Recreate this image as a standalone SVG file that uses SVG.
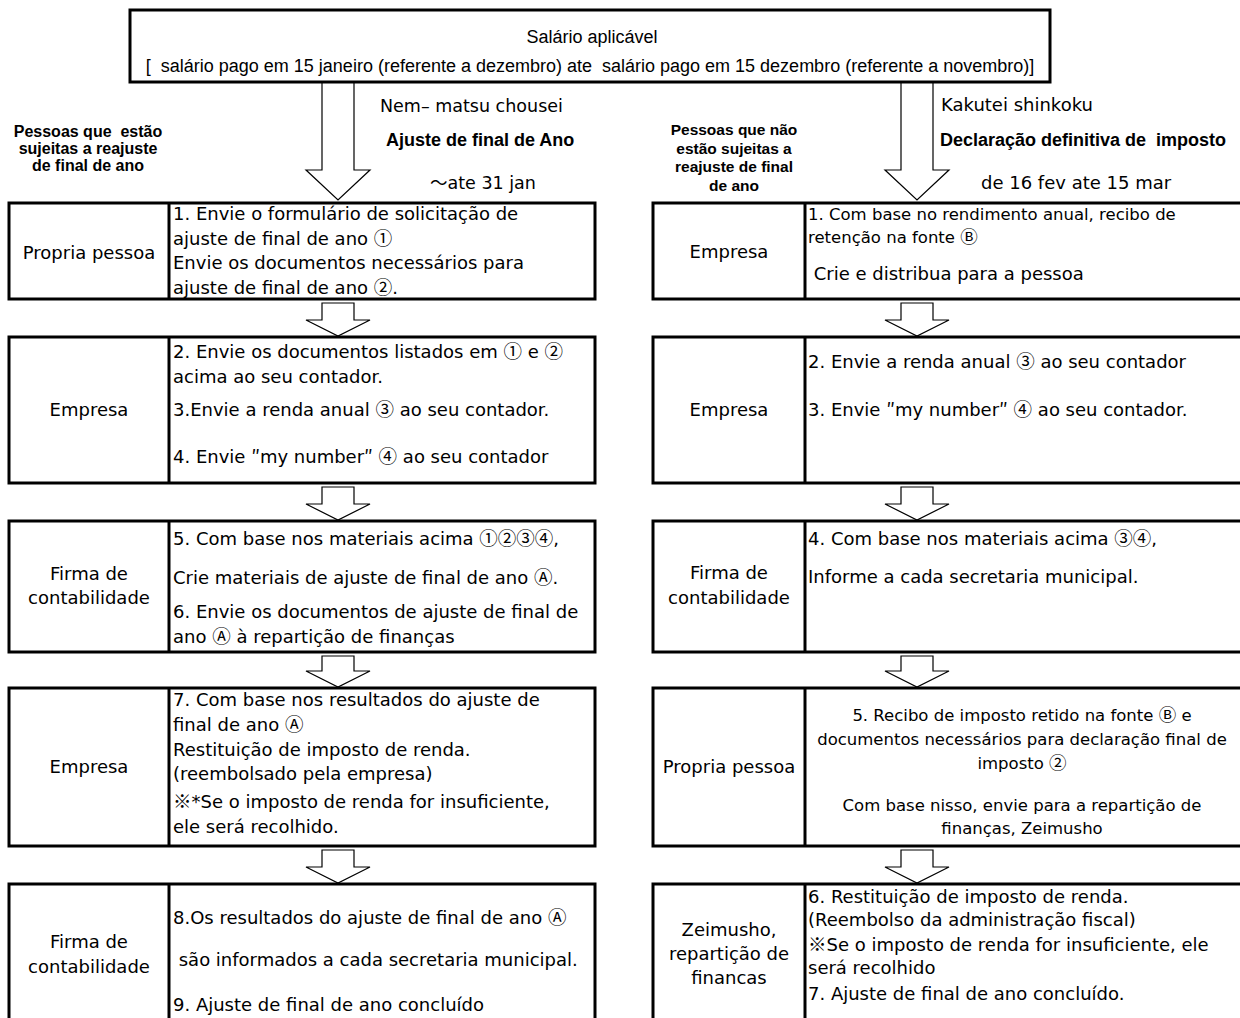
<svg xmlns="http://www.w3.org/2000/svg" width="1240" height="1018" viewBox="0 0 1240 1018">
<style>
.box{fill:#fff;stroke:#000;stroke-width:3}
.dv{stroke:#000;stroke-width:3}
.arr{fill:#fff;stroke:#000;stroke-width:1.2}
text{fill:#000}
.t{font-family:"DejaVu Sans","Noto Sans CJK JP",sans-serif;font-size:18px}
.s{font-size:16.5px}
.m{text-anchor:middle}
.cj{font-family:"Noto Sans CJK JP",sans-serif;font-size:18.5px}
.hd{font-family:"Liberation Sans","Noto Sans CJK JP",sans-serif;font-weight:bold;font-size:15.5px;text-anchor:middle}
.hl{font-size:16px}
.hb{font-family:"Liberation Sans","Noto Sans CJK JP",sans-serif;font-weight:bold;font-size:18px}
.top{font-family:"Liberation Sans","Noto Sans CJK JP",sans-serif;font-size:18px;text-anchor:middle}
</style>
<rect x="0" y="0" width="1240" height="1018" fill="#fff"/>

<g id="salario-aplicavel">
<rect class="box" x="130" y="10" width="920" height="72"/>
<text class="top" x="592" y="43">Salário aplicável</text>
<text class="top" x="590" y="72" xml:space="preserve">[  salário pago em 15 janeiro (referente a dezembro) ate  salário pago em 15 dezembro (referente a novembro)]</text>
</g>

<g id="connectors">
<path class="arr" d="M322,83 H354 V170 H370 L338,200 L306,170 H322 Z"/>
<path class="arr" d="M901,83 H933 V170 H949 L917,200 L885,170 H901 Z"/>
<path class="arr" d="M322,303 H354 V320 H370 L338,336 L306,320 H322 Z"/>
<path class="arr" d="M322,487 H354 V504 H370 L338,520 L306,504 H322 Z"/>
<path class="arr" d="M322,656 H354 V671 H370 L338,687 L306,671 H322 Z"/>
<path class="arr" d="M322,850 H354 V867 H370 L338,883 L306,867 H322 Z"/>
<path class="arr" d="M901,303 H933 V320 H949 L917,336 L885,320 H901 Z"/>
<path class="arr" d="M901,487 H933 V504 H949 L917,520 L885,504 H901 Z"/>
<path class="arr" d="M901,656 H933 V671 H949 L917,687 L885,671 H901 Z"/>
<path class="arr" d="M901,850 H933 V867 H949 L917,883 L885,867 H901 Z"/>
</g>

<g id="header-left">
<text class="hd hl" x="88" y="137" xml:space="preserve">Pessoas que  estão</text>
<text class="hd hl" x="88" y="154">sujeitas a reajuste</text>
<text class="hd hl" x="88" y="171">de final de ano</text>
<text class="t" x="380" y="112" style="font-size:17.5px">Nem– matsu chousei</text>
<text class="hb" x="386" y="146">Ajuste de final de Ano</text>
<text class="t" x="430" y="189" style="font-size:17.5px"><tspan class="cj" style="font-size:17.5px">～</tspan>ate 31 jan</text>
</g>

<g id="header-right">
<text class="hd" x="734" y="135">Pessoas que não</text>
<text class="hd" x="734" y="153.5">estão sujeitas a</text>
<text class="hd" x="734" y="172">reajuste de final</text>
<text class="hd" x="734" y="190.5">de ano</text>
<text class="t" x="941" y="111">Kakutei shinkoku</text>
<text class="hb" x="940" y="146" xml:space="preserve">Declaração definitiva de  imposto</text>
<text class="t" x="981" y="189">de 16 fev ate 15 mar</text>
</g>

<g id="left-1">
<rect class="box" x="9" y="203" width="586" height="96"/>
<line class="dv" x1="169" y1="203" x2="169" y2="299"/>
<text class="t m" x="89" y="259">Propria pessoa</text>
<text class="t" x="173" y="220">1. Envie o formulário de solicitação de</text>
<text class="t" x="173" y="245">ajuste de final de ano <tspan class="cj">①</tspan></text>
<text class="t" x="173" y="269">Envie os documentos necessários para</text>
<text class="t" x="173" y="294">ajuste de final de ano <tspan class="cj">②</tspan>.</text>
</g>

<g id="left-2">
<rect class="box" x="9" y="337" width="586" height="146"/>
<line class="dv" x1="169" y1="337" x2="169" y2="483"/>
<text class="t m" x="89" y="416">Empresa</text>
<text class="t" x="173" y="358">2. Envie os documentos listados em <tspan class="cj">①</tspan> e <tspan class="cj">②</tspan></text>
<text class="t" x="173" y="383">acima ao seu contador.</text>
<text class="t" x="173" y="416">3.Envie a renda anual <tspan class="cj">③</tspan> ao seu contador.</text>
<text class="t" x="173" y="463">4. Envie <tspan class="cj">″</tspan>my number<tspan class="cj">″</tspan> <tspan class="cj">④</tspan> ao seu contador</text>
</g>

<g id="left-3">
<rect class="box" x="9" y="521" width="586" height="131"/>
<line class="dv" x1="169" y1="521" x2="169" y2="652"/>
<text class="t m" x="89" y="580">Firma de</text>
<text class="t m" x="89" y="604">contabilidade</text>
<text class="t" x="173" y="545">5. Com base nos materiais acima <tspan class="cj">①②③④</tspan>,</text>
<text class="t" x="173" y="584">Crie materiais de ajuste de final de ano <tspan class="cj">Ⓐ</tspan>.</text>
<text class="t" x="173" y="618">6. Envie os documentos de ajuste de final de</text>
<text class="t" x="173" y="643">ano <tspan class="cj">Ⓐ</tspan> à repartição de finanças</text>
</g>

<g id="left-4">
<rect class="box" x="9" y="688" width="586" height="158"/>
<line class="dv" x1="169" y1="688" x2="169" y2="846"/>
<text class="t m" x="89" y="773">Empresa</text>
<text class="t" x="173" y="706">7. Com base nos resultados do ajuste de</text>
<text class="t" x="173" y="731">final de ano <tspan class="cj">Ⓐ</tspan></text>
<text class="t" x="173" y="756">Restituição de imposto de renda.</text>
<text class="t" x="173" y="780">(reembolsado pela empresa)</text>
<text class="t" x="173" y="808"><tspan class="cj">※</tspan>*Se o imposto de renda for insuficiente,</text>
<text class="t" x="173" y="833">ele será recolhido.</text>
</g>

<g id="left-5">
<rect class="box" x="9" y="884" width="586" height="140"/>
<line class="dv" x1="169" y1="884" x2="169" y2="1024"/>
<text class="t m" x="89" y="948">Firma de</text>
<text class="t m" x="89" y="973">contabilidade</text>
<text class="t" x="173" y="924">8.Os resultados do ajuste de final de ano <tspan class="cj">Ⓐ</tspan></text>
<text class="t" x="173" y="966" xml:space="preserve"> são informados a cada secretaria municipal.</text>
<text class="t" x="173" y="1011">9. Ajuste de final de ano concluído</text>
</g>

<g id="right-1">
<rect class="box" x="653" y="203" width="600" height="96"/>
<line class="dv" x1="805" y1="203" x2="805" y2="299"/>
<text class="t m" x="729" y="258">Empresa</text>
<text class="t s" x="808" y="220">1. Com base no rendimento anual, recibo de</text>
<text class="t s" x="808" y="243">retenção na fonte <tspan class="cj" style="font-size:17.5px">Ⓑ</tspan></text>
<text class="t" x="808" y="280" xml:space="preserve"> Crie e distribua para a pessoa</text>
</g>

<g id="right-2">
<rect class="box" x="653" y="337" width="600" height="146"/>
<line class="dv" x1="805" y1="337" x2="805" y2="483"/>
<text class="t m" x="729" y="416">Empresa</text>
<text class="t" x="808" y="368">2. Envie a renda anual <tspan class="cj">③</tspan> ao seu contador</text>
<text class="t" x="808" y="416">3. Envie <tspan class="cj">″</tspan>my number<tspan class="cj">″</tspan> <tspan class="cj">④</tspan> ao seu contador.</text>
</g>

<g id="right-3">
<rect class="box" x="653" y="521" width="600" height="131"/>
<line class="dv" x1="805" y1="521" x2="805" y2="652"/>
<text class="t m" x="729" y="579">Firma de</text>
<text class="t m" x="729" y="604">contabilidade</text>
<text class="t" x="808" y="545">4. Com base nos materiais acima <tspan class="cj">③④</tspan>,</text>
<text class="t" x="808" y="583">Informe a cada secretaria municipal.</text>
</g>

<g id="right-4">
<rect class="box" x="653" y="688" width="600" height="158"/>
<line class="dv" x1="805" y1="688" x2="805" y2="846"/>
<text class="t m" x="729" y="773">Propria pessoa</text>
<text class="t s m" x="1022" y="721">5. Recibo de imposto retido na fonte <tspan class="cj" style="font-size:17.5px">Ⓑ</tspan> e</text>
<text class="t s m" x="1022" y="745">documentos necessários para declaração final de</text>
<text class="t s m" x="1022" y="769">imposto <tspan class="cj" style="font-size:17.5px">②</tspan></text>
<text class="t s m" x="1022" y="811">Com base nisso, envie para a repartição de</text>
<text class="t s m" x="1022" y="834">finanças, Zeimusho</text>
</g>

<g id="right-5">
<rect class="box" x="653" y="884" width="600" height="140"/>
<line class="dv" x1="805" y1="884" x2="805" y2="1024"/>
<text class="t m" x="729" y="936">Zeimusho,</text>
<text class="t m" x="729" y="960">repartição de</text>
<text class="t m" x="729" y="984">financas</text>
<text class="t" x="808" y="903">6. Restituição de imposto de renda.</text>
<text class="t" x="808" y="926">(Reembolso da administração fiscal)</text>
<text class="t" x="808" y="951"><tspan class="cj">※</tspan>Se o imposto de renda for insuficiente, ele</text>
<text class="t" x="808" y="974">será recolhido</text>
<text class="t" x="808" y="1000">7. Ajuste de final de ano concluído.</text>
</g>
</svg>
